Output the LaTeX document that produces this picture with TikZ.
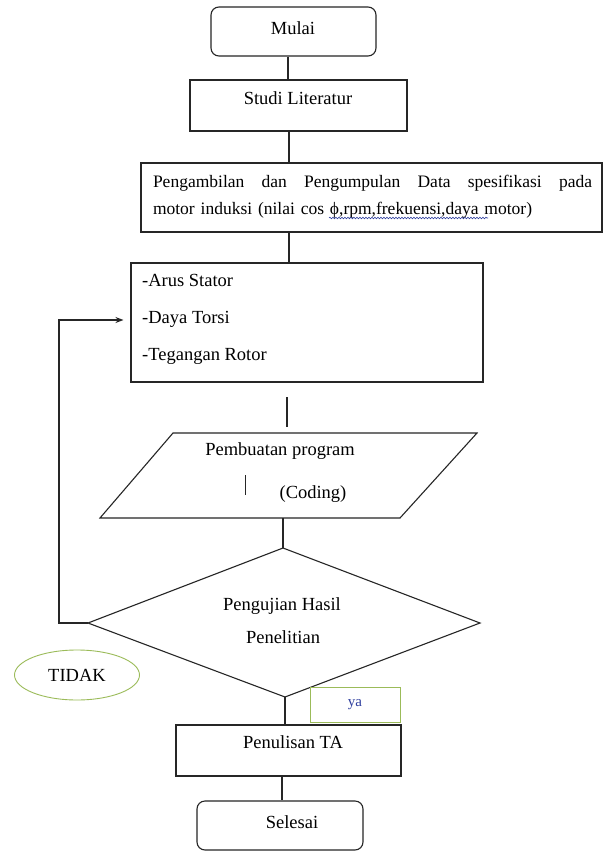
\documentclass[tikz,border=0pt]{standalone}
\usepackage{fontspec}
\setmainfont{Liberation Serif}
\usetikzlibrary{arrows.meta,shapes.geometric,decorations.pathmorphing}
\definecolor{linec}{HTML}{262626}
\definecolor{greenc}{HTML}{9BBB59}
\definecolor{bluec}{HTML}{2F3F9F}
\begin{document}
\begin{tikzpicture}[x=1pt,y=-1pt,
  every node/.style={font=\fontsize{18.5}{22}\selectfont, text=black},
  box/.style={draw=linec, line width=1.1pt, rectangle, inner sep=0pt},
  term/.style={box, rounded corners=8pt},
  conn/.style={draw=linec, line width=1.1pt},
  txt/.style={inner sep=0pt},
  gbox/.style={draw=greenc, line width=0.9pt, inner sep=0pt},
]
\useasboundingbox[fill=white] (0,0) rectangle (606,851);

% boxes
\node[term, minimum width=165, minimum height=49] (mulai) at (293.5,31.5) {};
\node[txt] (mulaiT) at (293,28) {Mulai};

\node[box, minimum width=217, minimum height=51] (studi) at (298.5,105.5) {};
\node[txt] (studiT) at (298,98) {Studi Literatur};

\node[box, minimum width=461, minimum height=69] (peng) at (371.5,197.5) {};
\node[txt, text width=439pt, align=left, font=\fontsize{17.5}{27}\selectfont] (pengT) at (372.5,196.5)
  {\makebox[439pt][l]{Pengambilan\hfill dan\hfill Pengumpulan\hfill Data\hfill spesifikasi\hfill pada}\\motor induksi (nilai cos ϕ,rpm,frekuensi,daya motor)};
\draw[bluec, line width=0.6pt, decorate, decoration={snake, amplitude=0.8pt, segment length=3pt}] (329,218) -- (488,218);

\node[box, minimum width=352, minimum height=119] (arus) at (307,322.5) {};
\node[txt, anchor=west, align=left, font=\fontsize{18.5}{37}\selectfont] (arusT) at (142,319)
  {-Arus Stator\\-Daya Torsi\\-Tegangan Rotor};

% stray line
\coordinate (s1) at (287,397);
\coordinate (s2) at (287,427);
\draw[conn] (s1) -- (s2);

% parallelogram
\coordinate (p1) at (173,433);
\coordinate (p2) at (477,433);
\coordinate (p3) at (400,518);
\coordinate (p4) at (100,518);
\draw[conn] (p1) -- (p2) -- (p3) -- (p4) -- cycle;
\node[txt] (parT1) at (280,451) {Pembuatan program};
\node[txt] (parT2) at (313,494) {(Coding)};
\coordinate (cur1) at (245,475);
\coordinate (cur2) at (245,495);
\draw[linec, line width=0.9pt] (cur1) -- (cur2);
\coordinate (pbot) at (283,518);

% diamond
\coordinate (dtop) at (283,548);
\coordinate (dleft) at (88,623);
\coordinate (dbot) at (285,697);
\coordinate (dright) at (480,623);
\draw[conn] (dtop) -- (dright) -- (dbot) -- (dleft) -- cycle;
\node[txt] (diaT1) at (282,606) {Pengujian Hasil};
\node[txt] (diaT2) at (283,637) {Penelitian};

% labels
\node[gbox, ellipse, minimum width=125, minimum height=50] (tidak) at (77,675) {TIDAK};
\node[gbox, minimum width=90, minimum height=35, text=bluec, font=\fontsize{15}{17}\selectfont] (ya) at (355,704.5) {ya};

\node[box, minimum width=225, minimum height=51] (penul) at (288.5,750.5) {};
\node[txt] (penulT) at (293,742) {Penulisan TA};

\node[term, minimum width=166, minimum height=49] (selesai) at (280,825.5) {};
\node[txt] (selesaiT) at (292,822) {Selesai};

% connectors
\draw[conn] ([xshift=-5.5pt]mulai.south) -- ([xshift=-10.5pt]studi.north);
\draw[conn] ([xshift=-9.5pt]studi.south) -- ([xshift=-82.5pt]peng.north);
\draw[conn] ([xshift=-82.5pt]peng.south) -- ([xshift=-18pt]arus.north);
\draw[conn] (pbot) -- (dtop);
\coordinate (loopA) at (59,623);
\coordinate (loopB) at (59,320);
\draw[conn, -{Stealth[length=8pt,width=6pt]}, shorten >=7pt] (dleft) -- (loopA) -- (loopB) -- ([yshift=2.5pt]arus.west);
\draw[conn] (dbot) -- ([xshift=-3.5pt]penul.north);
\draw[conn] ([xshift=-6.5pt]penul.south) -- ([xshift=2pt]selesai.north);
\end{tikzpicture}
\end{document}
